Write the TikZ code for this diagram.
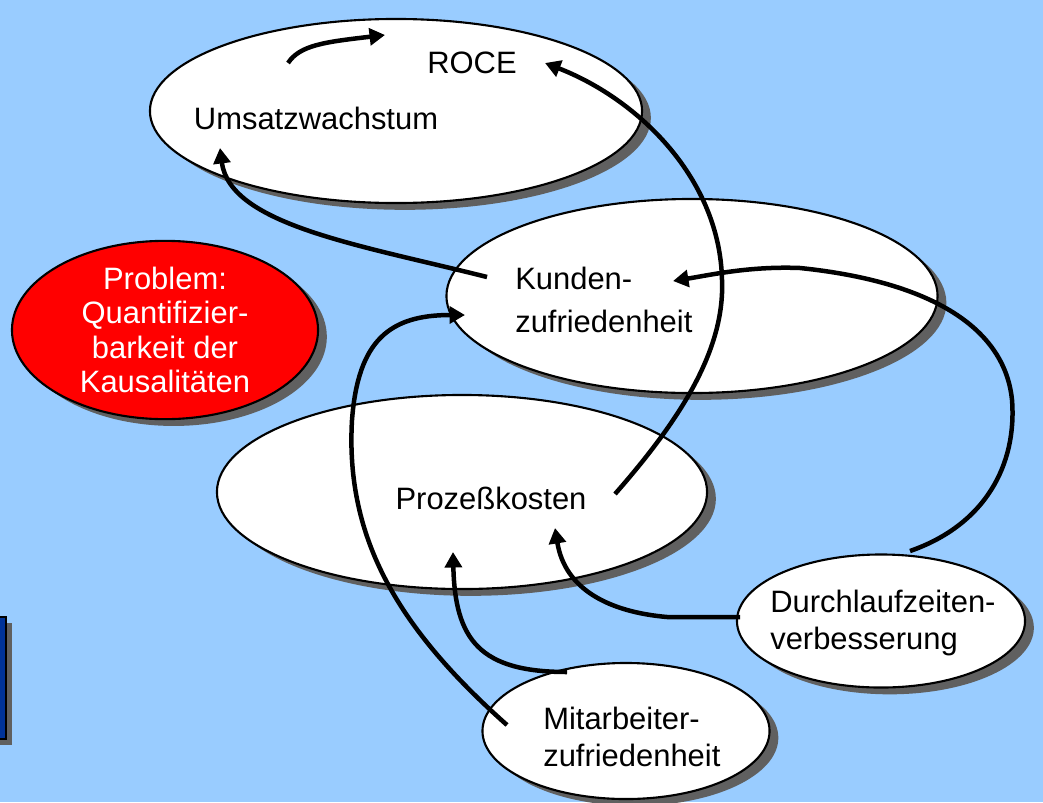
\documentclass[tikz,border=0pt]{standalone}
\usepackage{fontspec}
\setmainfont{Liberation Sans}
\usetikzlibrary{shapes.geometric, arrows.meta, shadows}

\definecolor{bgblue}{RGB}{153,204,255}
\definecolor{boxblue}{RGB}{0,51,153}
\definecolor{shadowgray}{RGB}{96,96,96}

\tikzset{
    bubble/.style={ellipse, draw=black, line width=1.5pt, fill=white, inner sep=0pt,
        drop shadow={shadow xshift=0.22cm, shadow yshift=-0.17cm, fill=shadowgray, opacity=1}},
    lbl/.style={font=\fontsize{22}{31}\selectfont, inner sep=0pt, align=left},
    conn/.style={line width=3.2pt, -{Triangle[length=11pt,width=12pt]}}
}

\begin{document}
\begin{tikzpicture}[x=0.025cm, y=-0.025cm]

    % ================= Background =================
    \useasboundingbox (0,0) rectangle (1043,802);
    \fill[bgblue] (0,0) rectangle (1043,802);

    % Box at the left edge
    \fill[shadowgray] (-10,623) rectangle (12,745);
    \draw[line width=1.5pt, fill=boxblue] (-10,617) rectangle (6,739);

    % ================= Ellipses =================
    \node[bubble, minimum width=12.3cm, minimum height=4.6cm] (umsatz) at (396,111) {};
    \node[bubble, fill=red, minimum width=7.65cm, minimum height=3.825cm,
        text=white, align=center, font=\fontsize{22}{24.5}\selectfont] (problem) at (165,330)
        {Problem:\\Quantifizier-\\barkeit der\\Kausalitäten};
    \node[bubble, minimum width=12.275cm, minimum height=4.85cm] (kunden) at (692,296) {};
    \node[bubble, minimum width=12.25cm, minimum height=4.85cm] (prozess) at (462,492) {};
    \node[bubble, minimum width=7.2cm, minimum height=3.325cm] (durchlauf) at (881,621) {};
    \node[bubble, minimum width=7.175cm, minimum height=3.4cm] (mitarbeiter) at (626,731) {};

    % Labels
    \node[lbl] (roce) at (472,63) {ROCE};
    \node[lbl] (wachstum) at (316,118) {Umsatzwachstum};
    \node[lbl, anchor=west] (kundenTxt) at (515,300) {Kunden-\\zufriedenheit};
    \node[lbl] (kostenTxt) at (491,498) {Prozeßkosten};
    \node[lbl, anchor=west, font=\fontsize{22}{27}\selectfont] (durchlaufTxt) at (770,623)
        {Durchlaufzeiten-\\verbesserung};
    \node[lbl, anchor=west, font=\fontsize{22}{26}\selectfont] (mitarbeiterTxt) at (543,737)
        {Mitarbeiter-\\zufriedenheit};

    % ================= Arrow ends =================
    \coordinate (wachsA) at (288,63);
    \coordinate (wachsB) at (385,35);
    \coordinate (kostenOut) at (615,494);
    \coordinate (roceIn) at (545,63);
    \coordinate (kundenOut) at (487,277);
    \coordinate (wachstumIn) at (220,148);
    \coordinate (durchlaufTop) at (910,551);
    \coordinate (kundenInR) at (673,281);
    \coordinate (durchlaufLeft) at (740,617);
    \coordinate (kostenInR) at (555,528);
    \coordinate (mitarbeiterTop) at (567,672);
    \coordinate (kostenInL) at (453,552);
    \coordinate (mitarbeiterLeft) at (507,725);
    \coordinate (kundenInL) at (465,315);

    % ================= Arrows =================
    \draw[conn] (wachsA) .. controls (300,45) and (325,42) .. (wachsB);
    \draw[conn] (kostenOut) .. controls (680,420) and (725,350) .. (722,280)
        .. controls (720,180) and (640,100) .. (roceIn);
    \draw[conn] (kundenOut) .. controls (360,245) and (230,225) .. (wachstumIn);
    \draw[conn] (durchlaufTop) .. controls (985,525) and (1017,465) .. (1012,400)
        .. controls (1005,330) and (935,282) .. (800,268)
        .. controls (750,266) and (710,275) .. (kundenInR);
    \draw[conn] (durchlaufLeft) -- (667,617) .. controls (610,612) and (565,590) .. (kostenInR);
    \draw[conn] (mitarbeiterTop) .. controls (480,672) and (455,640) .. (kostenInL);
    \draw[conn] (mitarbeiterLeft) .. controls (400,630) and (345,540) .. (352,420)
        .. controls (358,340) and (390,315) .. (kundenInL);

\end{tikzpicture}
\end{document}
